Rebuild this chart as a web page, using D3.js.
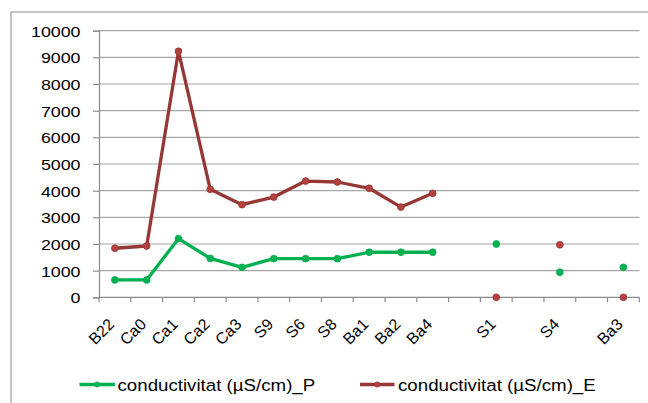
<!DOCTYPE html>
<html>
<head>
<meta charset="utf-8">
<script src="https://cdn.jsdelivr.net/npm/d3@7"></script>
<style>
  html, body { margin: 0; padding: 0; background: #fff; }
  svg { display: block; }
  text { font-family: "Liberation Sans", Arial, sans-serif; fill: #000; }
</style>
</head>
<body>
<svg id="chart" width="648" height="403"></svg>
<script>
// ---- data ----
const categories = ["B22","Ca0","Ca1","Ca2","Ca3","S9","S6","S8","Ba1","Ba2","Ba4","", "S1", " ", "S4", "  ", "Ba3"];
const seriesP = [650, 650, 2200, 1460, 1125, 1450, 1450, 1450, 1690, 1690, 1690, null, 2000, null, 940, null, 1125];
const seriesE = [1840, 1925, 9230, 4050, 3475, 3760, 4360, 4325, 4090, 3385, 3900, null, 0, null, 1970, null, 0];
const yTicks = [0, 1000, 2000, 3000, 4000, 5000, 6000, 7000, 8000, 9000, 10000];
const seriesNames = ["conductivitat (µS/cm)_P", "conductivitat (µS/cm)_E"];
const seriesColors = ["#00b050", "#953735"];
const markerFills = ["#00b050", "#b5403d"];

// ---- layout ----
const svg = d3.select("#chart");
const pLeft = 99, pRight = 639.3, pTop = 30.7, pBottom = 297.3;
const sx = 1.15; // horizontal stretch of text in reference

svg.append("rect").attr("x", 11).attr("y", 12).attr("width", 800).attr("height", 600)
  .attr("fill", "#fff").attr("stroke", "#8c8c8c").attr("stroke-width", 1);

const x = d3.scaleBand().domain(d3.range(categories.length)).range([pLeft, pRight]).padding(0);
const y = d3.scaleLinear().domain([0, 10000]).range([pBottom, pTop]);
const cx = i => x(i) + x.bandwidth() / 2;

// gridlines
svg.append("g").selectAll("line").data(yTicks.slice(1)).join("line")
  .attr("x1", pLeft).attr("x2", pRight)
  .attr("y1", d => y(d)).attr("y2", d => y(d))
  .attr("stroke", "#a6a6a6").attr("stroke-width", 1.2);

// y axis
const yAxis = svg.append("g").attr("transform", `translate(${pLeft},0)`)
  .call(d3.axisLeft(y).tickValues(yTicks).tickSize(6).tickPadding(0).tickFormat(d3.format("d")));
yAxis.select(".domain").attr("stroke", "#8c8c8c").attr("stroke-width", 1.2);
yAxis.selectAll(".tick line").attr("stroke", "#8c8c8c").attr("stroke-width", 1.2);
yAxis.selectAll(".tick text").remove();
yAxis.selectAll(".tick").append("text")
  .attr("transform", `translate(-18.5,0) scale(${sx},1)`)
  .attr("text-anchor", "end").attr("dy", "0.35em")
  .style("font-size", "15.5px").text(d => d3.format("d")(d));

// x axis
const xAxis = svg.append("g").attr("transform", `translate(0,${pBottom})`);
xAxis.append("line").attr("x1", pLeft).attr("x2", pRight).attr("y1", 0).attr("y2", 0)
  .attr("stroke", "#8c8c8c").attr("stroke-width", 1.2);
xAxis.selectAll("line.tk").data(d3.range(categories.length + 1)).join("line").attr("class", "tk")
  .attr("x1", i => i < categories.length ? x(i) : pRight)
  .attr("x2", i => i < categories.length ? x(i) : pRight)
  .attr("y1", 0).attr("y2", 5)
  .attr("stroke", "#8c8c8c").attr("stroke-width", 1.2);
xAxis.selectAll("text").data(categories).join("text")
  .attr("transform", (d, i) => `translate(${cx(i) + 0.5},${28}) rotate(-45)`)
  .attr("text-anchor", "end")
  .style("font-size", "16px")
  .text(d => d.trim());

// series
const allSeries = [seriesP, seriesE];
allSeries.forEach((vals, k) => {
  const segs = [];
  let cur = [];
  vals.forEach((v, i) => {
    if (v == null) { if (cur.length) segs.push(cur); cur = []; }
    else cur.push([i, v]);
  });
  if (cur.length) segs.push(cur);
  const g = svg.append("g");
  segs.filter(s => s.length > 1).forEach(s => {
    g.append("path")
      .attr("d", d3.line().x(p => cx(p[0])).y(p => y(p[1]))(s))
      .attr("fill", "none").attr("stroke", seriesColors[k])
      .attr("stroke-width", 3.3).attr("stroke-linejoin", "round");
  });
  g.selectAll("circle").data(vals.map((v, i) => [i, v]).filter(p => p[1] != null)).join("circle")
    .attr("cx", p => cx(p[0])).attr("cy", p => y(p[1])).attr("r", 3.4)
    .attr("fill", markerFills[k]).attr("stroke", seriesColors[k]).attr("stroke-width", 0.8);
});

// legend
const legendItems = [
  { x1: 79.5, x2: 115, tx: 117.5 },
  { x1: 360, x2: 394.5, tx: 398 }
];
const lg = svg.append("g");
legendItems.forEach((it, k) => {
  lg.append("line").attr("x1", it.x1).attr("x2", it.x2).attr("y1", 384.5).attr("y2", 384.5)
    .attr("stroke", seriesColors[k]).attr("stroke-width", 3.3);
  lg.append("circle").attr("cx", (it.x1 + it.x2) / 2).attr("cy", 384.5).attr("r", 2.6)
    .attr("fill", markerFills[k]).attr("stroke", seriesColors[k]).attr("stroke-width", 0.8);
  lg.append("text").attr("transform", `translate(${it.tx},${391}) scale(1.1,1)`)
    .style("font-size", "17px").text(seriesNames[k]);
});
</script>
</body>
</html>
